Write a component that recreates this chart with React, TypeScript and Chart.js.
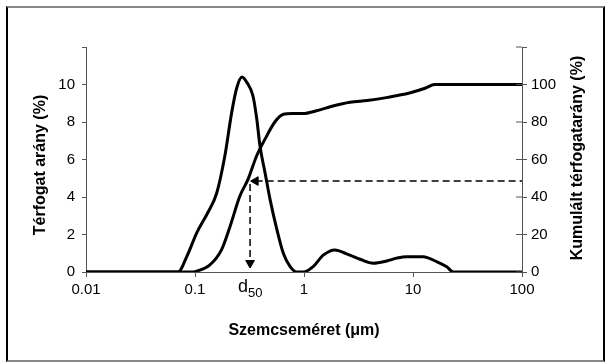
import React, { useEffect, useRef } from "react";
import { Chart, registerables } from "chart.js";

Chart.register(...registerables);

// Differential distribution (volume %) vs particle size (µm)
const diffSize = [0.01, 0.0698, 0.084, 0.104, 0.132, 0.158, 0.188, 0.217, 0.241, 0.27, 0.3, 0.34, 0.368, 0.395, 0.439, 0.487, 0.562, 0.646, 0.744, 0.857, 0.987, 1.22, 1.5, 1.92, 2.46, 3.27, 4.32, 5.74, 7.08, 8.75, 12.4, 16.5, 20.4, 23.4, 100];
const diffVolume = [0, 0, 0.82, 2.1, 3.2, 4.2, 6.2, 8.5, 9.8, 10.4, 10.1, 9.4, 8.2, 6.7, 5.3, 3.9, 2.3, 1.0, 0.3, 0, 0, 0.3, 0.9, 1.18, 0.97, 0.68, 0.47, 0.59, 0.74, 0.82, 0.82, 0.55, 0.28, 0, 0];

// Cumulative distribution (volume %) vs particle size (µm)
const cumSize = [0.01, 0.09, 0.104, 0.137, 0.175, 0.209, 0.258, 0.307, 0.368, 0.44, 0.54, 0.64, 0.79, 0.98, 1.3, 1.84, 2.64, 3.8, 5.7, 7.0, 9.3, 12.9, 15.8, 100];
const cumVolume = [0, 0, 0.5, 3.8, 11.8, 24, 40.5, 49.5, 62, 71, 80, 84, 84.5, 84.5, 86, 88.5, 90.5, 91.5, 93, 94, 95.5, 98, 100, 100];

const xTickValues = [0.01, 0.1, 1, 10, 100];
const xTickLabels = ["0.01", "0.1", "1", "10", "100"];
const leftTickValues = [0, 2, 4, 6, 8, 10, 12];
const leftTickLabels = ["0", "2", "4", "6", "8", "10", ""];
const rightTickValues = [0, 20, 40, 60, 80, 100, 120];
const rightTickLabels = ["0", "20", "40", "60", "80", "100", ""];

const d50Size = 0.32;
const d50Level = 48.5;
const d50ArrowHeadX = 0.36;
const d50ArrowBottom = 4.8;

const xTitle = "Szemcseméret (μm)";
const leftTitle = "Térfogat arány (%)";
const rightTitle = "Kumulált térfogatarány (%)";
const d50Main = "d";
const d50Sub = "50";

const FONT = "'Liberation Sans', Arial, sans-serif";
const AXIS = "#555";

const labelFor = (values: number[], labels: string[], v: number) => {
  const i = values.findIndex((t) => Math.abs(t - v) <= Math.abs(t) * 1e-6 + 1e-9);
  return i >= 0 ? labels[i] : "";
};

const annotations = {
  id: "annotations",
  afterDraw(chart: any) {
    const { ctx, chartArea, scales } = chart;
    const xs = scales.x;
    const y2 = scales.y2;
    ctx.save();
    // inner part of right-axis tick marks
    ctx.strokeStyle = AXIS;
    ctx.lineWidth = 1;
    y2.ticks.forEach((t: any) => {
      const py = y2.getPixelForValue(t.value);
      ctx.beginPath();
      ctx.moveTo(chartArea.right - 6, py);
      ctx.lineTo(chartArea.right, py);
      ctx.stroke();
    });
    ctx.fillStyle = "#000";
    // left title
    ctx.font = `bold 16px ${FONT}`;
    ctx.textAlign = "center";
    ctx.textBaseline = "middle";
    ctx.save();
    ctx.translate(41, 165);
    ctx.rotate(-Math.PI / 2);
    ctx.fillText(leftTitle, 0, 0);
    ctx.restore();
    // right title
    ctx.save();
    ctx.translate(578, 158);
    ctx.rotate(-Math.PI / 2);
    ctx.fillText(rightTitle, 0, 0);
    ctx.restore();
    // d50 label
    const px = xs.getPixelForValue(d50Size);
    ctx.textAlign = "left";
    ctx.textBaseline = "alphabetic";
    ctx.font = `18px ${FONT}`;
    const dx = px - 12;
    ctx.fillText(d50Main, dx, 292);
    const w = ctx.measureText(d50Main).width;
    ctx.font = `13px ${FONT}`;
    ctx.fillText(d50Sub, dx + w, 297);
    ctx.restore();
  },
};

export default function App() {
  const ref = useRef<HTMLCanvasElement | null>(null);

  useEffect(() => {
    if (!ref.current) return;
    const tickFont = { family: FONT, size: 15 };
    const chart = new Chart(ref.current, {
      type: "line",
      data: {
        datasets: [
          {
            label: "Térfogat arány",
            data: diffSize.map((s, i) => ({ x: s, y: diffVolume[i] })),
            yAxisID: "y",
            borderColor: "#000",
            borderWidth: 3,
            pointRadius: 0,
            cubicInterpolationMode: "monotone",
            fill: false,
            clip: 0,
          },
          {
            label: "Kumulált térfogatarány",
            data: cumSize.map((s, i) => ({ x: s, y: cumVolume[i] })),
            yAxisID: "y2",
            borderColor: "#000",
            borderWidth: 3,
            pointRadius: 0,
            cubicInterpolationMode: "monotone",
            fill: false,
            clip: 0,
          },
          {
            label: "d50 horizontal",
            data: [
              { x: d50ArrowHeadX, y: d50Level },
              { x: 100, y: d50Level },
            ],
            yAxisID: "y2",
            borderColor: "#000",
            borderWidth: 1.5,
            borderDash: [7, 4],
            pointStyle: "triangle",
            pointRadius: [5, 0],
            pointRotation: [-90, 0],
            pointBackgroundColor: "#000",
            pointBorderColor: "#000",
            pointBorderWidth: 1,
            fill: false,
            clip: false,
          },
          {
            label: "d50 vertical",
            data: [
              { x: d50Size, y: d50Level - 1.5 },
              { x: d50Size, y: d50ArrowBottom },
            ],
            yAxisID: "y2",
            borderColor: "#000",
            borderWidth: 1.5,
            borderDash: [7, 4],
            pointStyle: "triangle",
            pointRadius: [0, 5],
            pointRotation: [0, 180],
            pointBackgroundColor: "#000",
            pointBorderColor: "#000",
            pointBorderWidth: 1,
            fill: false,
            clip: false,
          },
        ] as any,
      },
      options: {
        animation: false,
        responsive: false,
        events: [],
        layout: { padding: { top: 47, left: 0, right: 0, bottom: 0 } },
        plugins: { legend: { display: false }, tooltip: { enabled: false } },
        scales: {
          x: {
            type: "logarithmic",
            position: "bottom",
            min: 0.01,
            max: 100,
            afterBuildTicks: (s: any) => {
              s.ticks = xTickValues.map((v) => ({ value: v }));
            },
            afterFit: (s: any) => {
              s.height = 90;
            },
            ticks: {
              callback: (v: any) => labelFor(xTickValues, xTickLabels, Number(v)),
              font: tickFont,
              color: "#000",
              padding: 4,
              maxRotation: 0,
              autoSkip: false,
            },
            grid: { drawOnChartArea: false, tickLength: 5, color: AXIS, lineWidth: 1 },
            border: { color: AXIS, width: 1 },
            title: {
              display: true,
              text: xTitle,
              font: { family: FONT, size: 16, weight: "bold" },
              color: "#000",
              padding: { top: 0, bottom: 22 },
            },
          },
          y: {
            type: "linear",
            position: "left",
            min: 0,
            max: 12,
            afterBuildTicks: (s: any) => {
              s.ticks = leftTickValues.map((v) => ({ value: v }));
            },
            afterFit: (s: any) => {
              s.width = 86;
            },
            ticks: {
              callback: (v: any) => labelFor(leftTickValues, leftTickLabels, Number(v)),
              font: tickFont,
              color: "#000",
              padding: 7,
            },
            grid: { drawOnChartArea: false, tickLength: 4, color: AXIS, lineWidth: 1 },
            border: { color: AXIS, width: 1 },
          },
          y2: {
            type: "linear",
            position: "right",
            min: 0,
            max: 120,
            afterBuildTicks: (s: any) => {
              s.ticks = rightTickValues.map((v) => ({ value: v }));
            },
            afterFit: (s: any) => {
              s.width = 84;
            },
            ticks: {
              callback: (v: any) => labelFor(rightTickValues, rightTickLabels, Number(v)),
              font: tickFont,
              color: "#000",
              padding: 4,
            },
            grid: { drawOnChartArea: false, tickLength: 5, color: AXIS, lineWidth: 1 },
            border: { color: AXIS, width: 1 },
          },
        },
      } as any,
      plugins: [annotations],
    });
    return () => chart.destroy();
  }, []);

  return (
    <div style={{ position: "absolute", left: 0, top: 0, width: 606, height: 362, background: "#fff" }}>
      <div
        style={{
          position: "absolute",
          left: 6,
          top: 6,
          width: 599,
          height: 356,
          boxSizing: "border-box",
          borderLeft: "2px solid #000",
          borderRight: "2px solid #000",
          borderTop: "2px solid #888",
          borderBottom: "2px solid #888",
        }}
      />
      <canvas ref={ref} width={606} height={362} style={{ position: "absolute", left: 0, top: 0 }} />
    </div>
  );
}
